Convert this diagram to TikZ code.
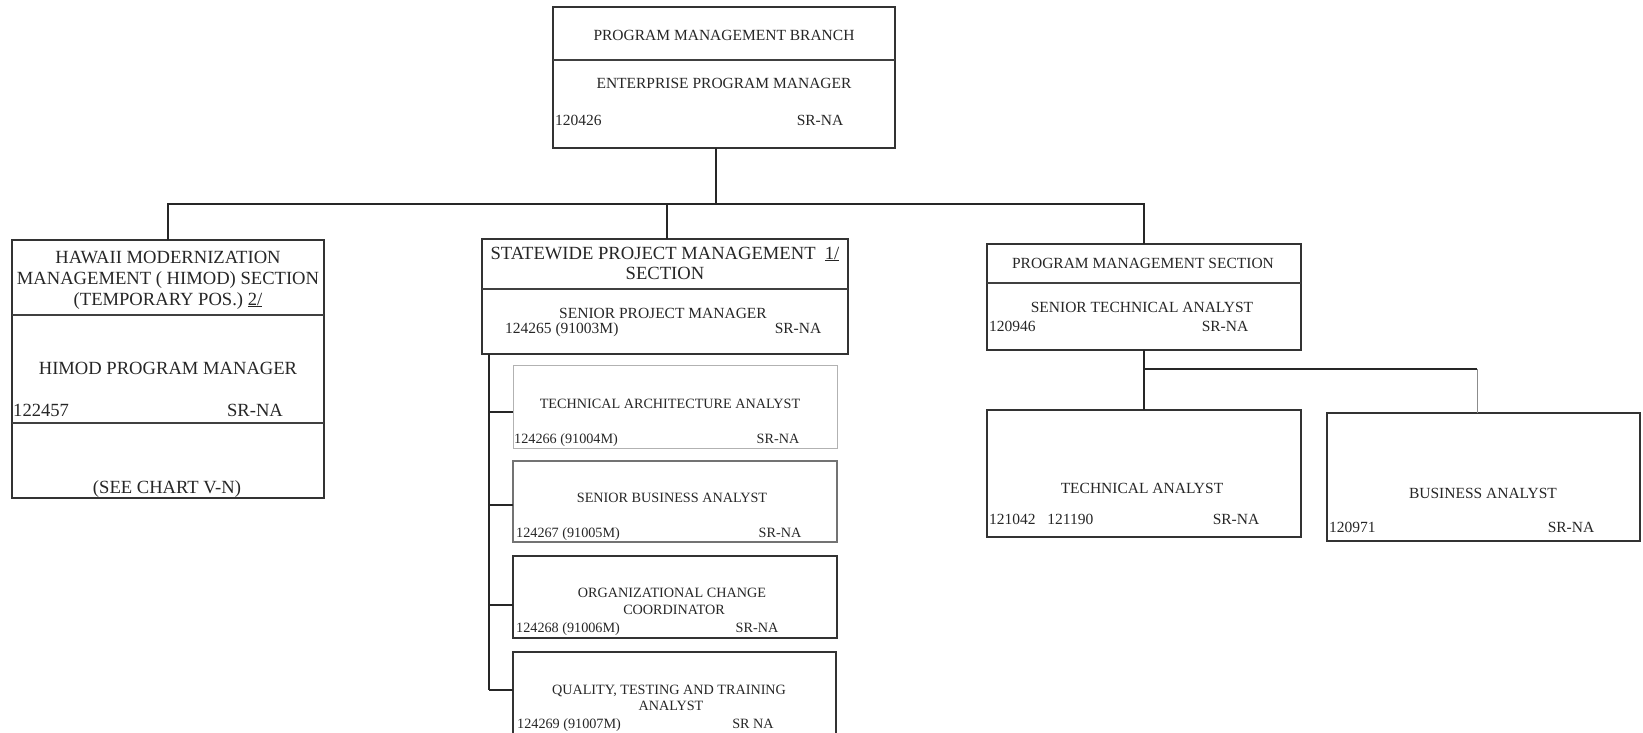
\documentclass[tikz,border=0pt]{standalone}
\usepackage{fontspec}
\setmainfont{Liberation Serif}
\begin{document}
\begin{tikzpicture}[x=1pt,y=-1pt,
  box/.style={draw=black!80, line width=1.3pt, inner sep=0pt, outer sep=0pt, anchor=north west},
  lightbox/.style={box, draw=black!30, line width=1pt},
  midbox/.style={box, draw=black!55, line width=1.1pt},
  div/.style={draw=black!75, line width=1.1pt},
  conn/.style={draw=black!85, line width=1.2pt},
  lconn/.style={draw=black!45, line width=1pt},
  txt/.style={inner sep=0pt, text=black!85, anchor=base},
  num/.style={txt, anchor=base west},
  fA/.style={font=\fontsize{15.5}{18}\selectfont},
  fB/.style={font=\fontsize{18.6}{22}\selectfont},
  fC/.style={font=\fontsize{14.2}{17}\selectfont},
]
\useasboundingbox (0,0) rectangle (1643,733);

% ---------- boxes ----------
\node[box, minimum width=342pt, minimum height=141pt] (top) at (553,7) {};
\node[box, minimum width=312pt, minimum height=258pt] (hl) at (12,240) {};
\node[box, minimum width=366pt, minimum height=115pt] (hm) at (482,239) {};
\node[box, minimum width=314pt, minimum height=106pt] (hr) at (987,244) {};

\node[lightbox, minimum width=324pt, minimum height=83pt] (c1) at (513,365) {};
\node[midbox, minimum width=324pt, minimum height=81pt] (c2) at (513,461) {};
\node[box, minimum width=324pt, minimum height=82pt] (c3) at (513,556) {};
\node[box, minimum width=323pt, minimum height=88pt] (c4) at (513,652) {};

\node[box, minimum width=314pt, minimum height=127pt] (ta) at (987,410) {};
\node[box, minimum width=313pt, minimum height=128pt] (ba) at (1327,413) {};

% ---------- dividers ----------
\draw[div] (top.west |- 0,60) -- (top.east |- 0,60);
\draw[div] (hl.west |- 0,315) -- (hl.east |- 0,315);
\draw[div] (hl.west |- 0,423) -- (hl.east |- 0,423);
\draw[div] (hm.west |- 0,289) -- (hm.east |- 0,289);
\draw[div] (hr.west |- 0,283) -- (hr.east |- 0,283);

% ---------- connectors ----------
\coordinate (j0) at (716,204);
\coordinate (jm) at (667,204);
\draw[conn] (j0 |- top.south) -- (j0);
\draw[conn] (hl.north) -- (hl.north |- j0) -- (hr.north |- j0) -- (hr.north);
\draw[conn] (jm |- hm.north) -- (jm);

\coordinate (sp) at (489,0);
\draw[conn] (sp |- hm.south) -- (sp |- 0,690);
\draw[conn] (sp |- 0,412) -- ([yshift=-5.5pt]c1.west);
\draw[conn] (sp |- 0,505) -- ([yshift=-3.5pt]c2.west);
\draw[conn] (sp |- 0,605) -- ([yshift=-8pt]c3.west);
\draw[conn] (sp |- 0,690) -- ([yshift=6pt]c4.west);

\coordinate (j1) at (1477,369);
\draw[conn] (hr.south) -- (ta.north);
\draw[conn] (hr.south |- j1) -- (j1);
\draw[lconn] (j1) -- (j1 |- ba.north);

% ---------- texts: top ----------
\node[txt, fA] (t1) at (724,41) {PROGRAM MANAGEMENT BRANCH};
\node[txt, fA] (t2) at (724,89) {ENTERPRISE PROGRAM MANAGER};
\node[num, fA] (t3) at (555,126) {120426};
\node[txt, fA] (t4) at (820,126) {SR-NA};

% ---------- texts: left ----------
\node[txt, fB] (l1) at (168,263) {HAWAII MODERNIZATION};
\node[txt, fB] (l2) at (168,284) {MANAGEMENT ( HIMOD) SECTION};
\node[txt, fB] (l3) at (168,305) {(TEMPORARY POS.) \underline{2/}};
\node[txt, fB] (l4) at (168,374) {HIMOD PROGRAM MANAGER};
\node[num, fB] (l5) at (13,416) {122457};
\node[txt, fB] (l6) at (255,416) {SR-NA};
\node[txt, fB] (l7) at (167,493) {(SEE CHART V-N)};

% ---------- texts: middle ----------
\node[txt, fB] (m1) at (665,259) {STATEWIDE PROJECT MANAGEMENT\ \ \underline{1/}};
\node[txt, fB] (m2) at (665,279) {SECTION};
\node[txt, fA] (m3) at (663,318) {SENIOR PROJECT MANAGER};
\node[num, fA] (m4) at (505,333) {124265 (91003M)};
\node[txt, fA] (m5) at (798,333) {SR-NA};

\node[txt, fC] (a1) at (670,408) {TECHNICAL ARCHITECTURE ANALYST};
\node[num, fC] (a2) at (514,443) {124266 (91004M)};
\node[txt, fC] (a3) at (778,443) {SR-NA};

\node[txt, fC] (b1) at (672,502) {SENIOR BUSINESS ANALYST};
\node[num, fC] (b2) at (516,537) {124267 (91005M)};
\node[txt, fC] (b3) at (780,537) {SR-NA};

\node[txt, fC] (d1) at (672,597) {ORGANIZATIONAL CHANGE};
\node[txt, fC] (d2) at (674,614) {COORDINATOR};
\node[num, fC] (d3) at (516,632) {124268 (91006M)};
\node[txt, fC] (d4) at (757,632) {SR-NA};

\node[txt, fC] (e1) at (669,694) {QUALITY, TESTING AND TRAINING};
\node[txt, fC] (e2) at (671,710) {ANALYST};
\node[num, fC] (e3) at (517,728) {124269 (91007M)};
\node[txt, fC] (e4) at (753,728) {SR NA};

% ---------- texts: right ----------
\node[txt, fA] (r1) at (1143,268) {PROGRAM MANAGEMENT SECTION};
\node[txt, fA] (r2) at (1142,312) {SENIOR TECHNICAL ANALYST};
\node[num, fA] (r3) at (989,331) {120946};
\node[txt, fA] (r4) at (1225,331) {SR-NA};

\node[txt, fA] (s1) at (1142,493) {TECHNICAL ANALYST};
\node[num, fA] (s2) at (989,524) {121042\ \ \ 121190};
\node[txt, fA] (s3) at (1236,524) {SR-NA};

\node[txt, fA] (u1) at (1483,498) {BUSINESS ANALYST};
\node[num, fA] (u2) at (1329,532) {120971};
\node[txt, fA] (u3) at (1571,532) {SR-NA};
\end{tikzpicture}
\end{document}
